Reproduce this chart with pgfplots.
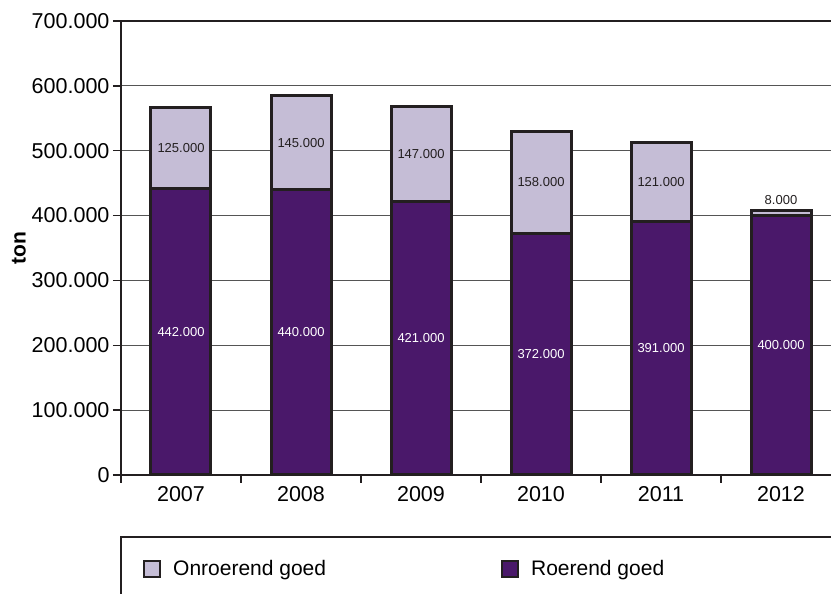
\documentclass[border=0pt]{standalone}
\usepackage{fontspec}
\setmainfont{Liberation Sans}
\usepackage{pgfplots}
\pgfplotsset{compat=1.18}
\definecolor{roerend}{RGB}{74,24,106}
\definecolor{onroerend}{RGB}{197,189,214}
\definecolor{edge}{RGB}{35,31,32}
\definecolor{gridc}{RGB}{85,85,85}
\begin{document}
\begin{tikzpicture}
\path[use as bounding box] (0,0) rectangle (831pt,594pt);
\clip (0,0) rectangle (831pt,594pt);
% legend frame (cut off by the page like in the original)
\draw[edge, line width=2.5pt] (121pt,-20pt) -- (121pt,57pt) -- (900pt,57pt);
\begin{axis}[
  at={(121pt,119pt)}, anchor=south west,
  scale only axis, width=714pt, height=454pt,
  xmin=-0.5, xmax=5.45,
  ymin=0, ymax=700000,
  axis line style={edge, line width=2.8pt},
  ytick={0,100000,...,700000},
  scaled y ticks=false,
  yticklabel style={/pgf/number format/.cd, fixed, 1000 sep={.}},
  /pgf/number format/assume math mode=true,
  ymajorgrids, major grid style={gridc, line width=1.2pt},
  xtick={-0.5,0.5,...,5.5},
  xticklabels={2007,2008,2009,2010,2011,2012,{}},
  x tick label style={xshift=60pt},
  tick align=outside, tick pos=left,
  major tick length=8pt,
  tick style={edge, line width=1.5pt},
  ticklabel style={font=\fontsize{21.5}{25}\selectfont},
  ylabel={ton},
  ylabel style={font=\fontsize{21}{25}\selectfont\bfseries, yshift=-1pt},
  legend columns=2,
  legend image code/.code={\draw[#1] (0pt,-8pt) rectangle (16pt,8pt);},
  legend style={at={(rel axis cs:0.0308,-0.207)}, anchor=west, draw=none, fill=none,
    inner sep=0pt, font=\fontsize{21}{25}\selectfont,
    /tikz/every even column/.append style={column sep=173pt},
    /tikz/every odd column/.append style={column sep=10pt}},
]
\addlegendimage{fill=onroerend, draw=edge, line width=2pt}
\addlegendentry{Onroerend goed}
\addlegendimage{fill=roerend, draw=edge, line width=2pt}
\addlegendentry{Roerend goed}
\addplot[ybar, stack plots=y, bar width=60pt, bar shift=0pt, fill=roerend, draw=edge, line width=3pt, forget plot]
  coordinates {(0,442000) (1,440000) (2,421000) (3,372000) (4,391000) (5,400000)};
\addplot[ybar, stack plots=y, bar width=60pt, bar shift=0pt, fill=onroerend, draw=edge, line width=3pt, forget plot]
  coordinates {(0,125000) (1,145000) (2,147000) (3,158000) (4,121000) (5,8000)};
% value labels
\addplot[draw=none, forget plot, nodes near coords, point meta=explicit symbolic,
  nodes near coords style={anchor=center, text=white, font=\fontsize{13}{15}\selectfont}]
  coordinates {(0,221000)[442.000] (1,220000)[440.000] (2,210500)[421.000]
               (3,186000)[372.000] (4,195500)[391.000] (5,200000)[400.000]};
\addplot[draw=none, forget plot, nodes near coords, point meta=explicit symbolic,
  nodes near coords style={anchor=center, text=edge, font=\fontsize{13}{15}\selectfont}]
  coordinates {(0,504500)[125.000] (1,512500)[145.000] (2,494500)[147.000]
               (3,451000)[158.000] (4,451500)[121.000] (5,424000)[8.000]};
\end{axis}
\end{tikzpicture}
\end{document}
